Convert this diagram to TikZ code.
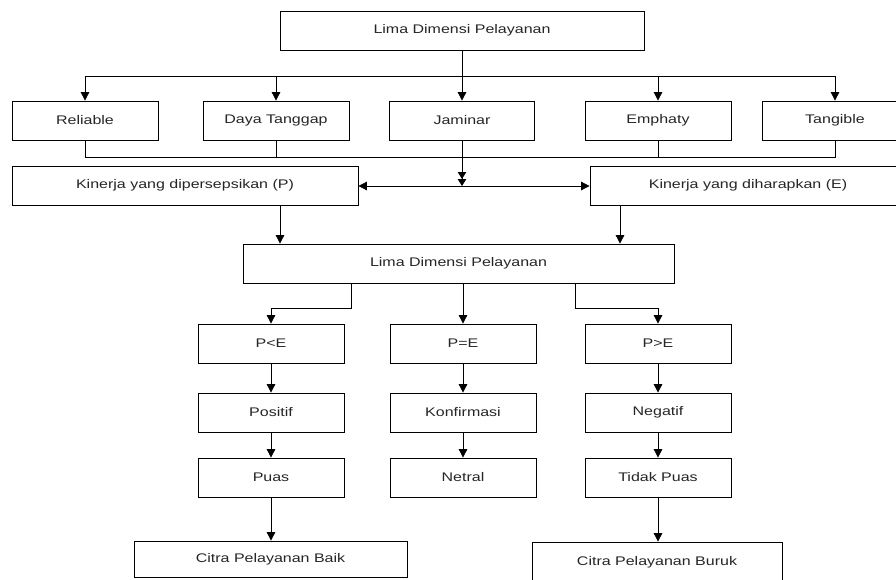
\documentclass[tikz,border=0pt]{standalone}
\usepackage{fontspec}
\setmainfont{Liberation Sans}[FakeStretch=1.28]
\usetikzlibrary{arrows.meta}
\begin{document}
\begin{tikzpicture}[x=1pt,y=-1pt,
  box/.style={draw, line width=0.8pt, inner sep=0pt, align=center,
    minimum height=39pt, minimum width=146pt, text=black!85,
    font=\fontsize{12.5}{14}\selectfont},
  ln/.style={line width=0.8pt},
  arr/.style={line width=0.8pt, -{Triangle[width=8.5pt,length=8.5pt]}},
  dbl/.style={line width=0.8pt, -{Triangle[width=8.5pt,length=7pt]Triangle[width=8.5pt,length=7pt]}},
  both/.style={line width=0.8pt, {Triangle[width=8.5pt,length=8.5pt]}-{Triangle[width=8.5pt,length=8.5pt]}}]
\useasboundingbox (0,0) rectangle (896,579);
\clip (0,0) rectangle (896,579);
\fill[white] (0,0) rectangle (896,579);
% nodes
\node[box, minimum width=364pt] (top) at (462,30.5) {Lima Dimensi Pelayanan};
\node[box] (rel)  at (85,120.5)  {Reliable};
\node[box] (daya) at (276,120.5) {Daya Tanggap};
\node[box, minimum width=145pt] (jam)  at (462,120.5) {Jaminar};
\node[box] (emp)  at (658,120.5) {Emphaty};
\node[box] (tan)  at (835,120.5) {Tangible};
\node[box, minimum width=346pt] (kinP) at (185,185.5) {Kinerja yang dipersepsikan (P)};
\node[box, minimum width=316pt] (kinE) at (748,185.5) {Kinerja yang diharapkan (E)};
\node[box, minimum width=431pt] (lima2) at (458.5,263.5) {Lima Dimensi Pelayanan};
\node[box] (pl) at (271,343.5) {P<E};
\node[box] (pe) at (463,343.5) {P=E};
\node[box] (pg) at (658,343.5) {P>E};
\node[box] (pos)  at (271,412.5) {Positif};
\node[box] (konf) at (463,412.5) {Konfirmasi};
\node[box] (neg)  at (658,412.5) {Negatif};
\node[box] (puas)   at (271,477.5) {Puas};
\node[box] (netral) at (463,477.5) {Netral};
\node[box] (tidak)  at (658,477.5) {Tidak Puas};
\node[box, minimum width=273pt, minimum height=36pt] (baik) at (270.5,559) {Citra Pelayanan Baik};
\node[box, minimum width=250pt, minimum height=40pt] (buruk) at (657,562) {Citra Pelayanan Buruk};
% coordinates
\coordinate (b1) at (462,76);
\coordinate (b2) at (462,157);
\coordinate (m) at (462,186);
% top fan-out
\draw[ln] (top.south) -- (b1);
\draw[ln] (b1 -| rel.north) -- (b1 -| tan.north);
\draw[arr] (b1 -| rel.north) -- (rel.north);
\draw[arr] (b1 -| daya.north) -- (daya.north);
\draw[arr] (b1) -- (jam.north);
\draw[arr] (b1 -| emp.north) -- (emp.north);
\draw[arr] (b1 -| tan.north) -- (tan.north);
% collecting line
\draw[ln] (rel.south) |- (b2 -| tan.south) -- (tan.south);
\draw[ln] (daya.south) -- (b2 -| daya.south);
\draw[ln] (emp.south) -- (b2 -| emp.south);
\draw[dbl] (jam.south) -- (m);
\draw[both] (kinP.east |- m) -- (kinE.west |- m);
% to second Lima
\draw[arr] ([xshift=95pt]kinP.south) -- ([xshift=95pt]kinP.south |- lima2.north);
\draw[arr] ([xshift=-128pt]kinE.south) -- ([xshift=-128pt]kinE.south |- lima2.north);
% fan-out of second Lima
\draw[arr] ([xshift=-107.5pt]lima2.south) -- ++(0,25) -| (pl.north);
\draw[arr] (pe.north |- lima2.south) -- (pe.north);
\draw[arr] ([xshift=116.5pt]lima2.south) -- ++(0,25) -| (pg.north);
% columns
\draw[arr] (pl.south) -- (pos.north);
\draw[arr] (pe.south) -- (konf.north);
\draw[arr] (pg.south) -- (neg.north);
\draw[arr] (pos.south) -- (puas.north);
\draw[arr] (konf.south) -- (netral.north);
\draw[arr] (neg.south) -- (tidak.north);
\draw[arr] (puas.south) -- (puas.south |- baik.north);
\draw[arr] (tidak.south) -- (tidak.south |- buruk.north);
\end{tikzpicture}
\end{document}
